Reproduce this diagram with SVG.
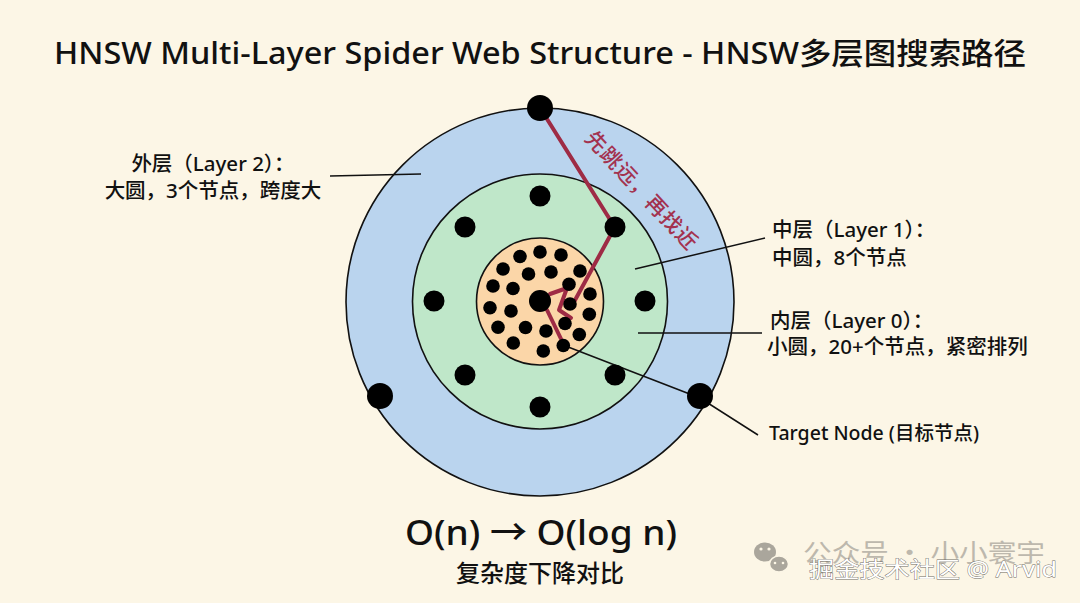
<svg xmlns="http://www.w3.org/2000/svg" width="1080" height="603" viewBox="0 0 1080 603">
<defs>
<style>
.lbl{font-family:"Noto Sans","Noto Sans CJK SC",sans-serif;fill:#111;font-weight:500;}
.ring{stroke:#111;stroke-width:1.6;}
.n{fill:#000;}
.lead{stroke:#111;stroke-width:1.5;fill:none;}
.path{stroke:#9e2b45;stroke-width:4;fill:none;stroke-linecap:round;stroke-linejoin:round;}
</style>
</defs>
<rect width="1080" height="603" fill="#fcf6e6"/>
<text class="lbl" x="540" y="64" text-anchor="middle" font-size="30" textLength="972" lengthAdjust="spacingAndGlyphs">HNSW Multi-Layer Spider Web Structure - HNSW多层图搜索路径</text>

<g id="layer2"><circle class="ring" cx="540" cy="302" r="194" fill="#bad4ee"/></g>
<g id="layer1"><circle class="ring" cx="540" cy="301.5" r="127.5" fill="#bfe7c9"/></g>
<g id="layer0"><circle class="ring" cx="540" cy="301.5" r="63.5" fill="#fbd6a8"/></g>

<g id="connectors">
<line class="lead" x1="330" y1="176" x2="421" y2="174"/>
<line class="lead" x1="635" y1="269" x2="765" y2="238"/>
<line class="lead" x1="638" y1="333" x2="762" y2="333"/>
<polyline class="lead" points="563,345 700,398 758,435"/>
<polyline class="path" points="547,119 609,218"/>
<polyline class="path" points="610,236 574,302"/>
<polyline class="path" points="550,294 567,288 559,310 571,318"/>
<polyline class="path" points="547,310 563,343"/>
</g>

<g id="outer-nodes">
<g id="o1"><circle class="n" cx="540" cy="108" r="13"/></g>
<g id="o2"><circle class="n" cx="380" cy="396" r="13"/></g>
<g id="o3"><circle class="n" cx="700" cy="396" r="13"/></g>
</g>
<g id="middle-nodes">
<g id="m1"><circle class="n" cx="540" cy="196" r="10.5"/></g>
<g id="m2"><circle class="n" cx="615" cy="227" r="10.5"/></g>
<g id="m3"><circle class="n" cx="645" cy="301" r="10.5"/></g>
<g id="m4"><circle class="n" cx="615" cy="375" r="10.5"/></g>
<g id="m5"><circle class="n" cx="540" cy="407" r="10.5"/></g>
<g id="m6"><circle class="n" cx="465" cy="375" r="10.5"/></g>
<g id="m7"><circle class="n" cx="434" cy="301" r="10.5"/></g>
<g id="m8"><circle class="n" cx="465" cy="227" r="10.5"/></g>
</g>
<g id="inner-nodes">
<g id="c0"><circle class="n" cx="540" cy="301" r="11"/></g>
<g id="i1"><circle class="n" cx="540" cy="252" r="6.8"/></g>
<g id="i2"><circle class="n" cx="520" cy="256.5" r="6.8"/></g>
<g id="i3"><circle class="n" cx="561" cy="255" r="6.8"/></g>
<g id="i4"><circle class="n" cx="503" cy="269" r="6.8"/></g>
<g id="i5"><circle class="n" cx="528.5" cy="274" r="6.8"/></g>
<g id="i6"><circle class="n" cx="551" cy="272" r="6.8"/></g>
<g id="i7"><circle class="n" cx="580" cy="271" r="6.8"/></g>
<g id="i8"><circle class="n" cx="493" cy="286" r="6.8"/></g>
<g id="i9"><circle class="n" cx="513" cy="288.5" r="6.8"/></g>
<g id="i10"><circle class="n" cx="569" cy="284.3" r="6.8"/></g>
<g id="i11"><circle class="n" cx="590" cy="294" r="6.8"/></g>
<g id="i12"><circle class="n" cx="490" cy="307.7" r="6.8"/></g>
<g id="i13"><circle class="n" cx="511" cy="311" r="6.8"/></g>
<g id="i14"><circle class="n" cx="570" cy="304" r="6.8"/></g>
<g id="i15"><circle class="n" cx="589.3" cy="314.3" r="6.8"/></g>
<g id="i16"><circle class="n" cx="498" cy="327.3" r="6.8"/></g>
<g id="i17"><circle class="n" cx="525.5" cy="327.5" r="6.8"/></g>
<g id="i18"><circle class="n" cx="546" cy="331" r="6.8"/></g>
<g id="i19"><circle class="n" cx="565" cy="323.5" r="6.8"/></g>
<g id="i20"><circle class="n" cx="579.3" cy="334.5" r="6.8"/></g>
<g id="i21"><circle class="n" cx="513.3" cy="343" r="6.8"/></g>
<g id="i22"><circle class="n" cx="543.3" cy="351" r="6.8"/></g>
<g id="target"><circle class="n" cx="563.3" cy="345.5" r="6.8"/></g>
</g>

<g id="path-label">
<text class="lbl" x="642" y="190" transform="rotate(47 642 190)" text-anchor="middle" dominant-baseline="central" font-size="21" letter-spacing="1" style="fill:#a3324f">先跳远，再找近</text>
</g>

<g id="label-layer2">
<text class="lbl" x="213" y="171" text-anchor="middle" font-size="20.5">外层（Layer 2）：</text>
<text class="lbl" x="213" y="198" text-anchor="middle" font-size="20.5">大圆，3个节点，跨度大</text>
</g>
<g id="label-layer1">
<text class="lbl" x="772" y="237" font-size="20.5">中层（Layer 1）：</text>
<text class="lbl" x="772" y="265" font-size="20.5">中圆，8个节点</text>
</g>
<g id="label-layer0">
<text class="lbl" x="770" y="328" font-size="20.5">内层（Layer 0）：</text>
<text class="lbl" x="767" y="354" font-size="20.5">小圆，20+个节点，紧密排列</text>
</g>
<g id="label-target">
<text class="lbl" x="769" y="440" font-size="19.5">Target Node (目标节点)</text>
</g>

<g id="complexity">
<text class="lbl" x="541" y="545" text-anchor="middle" font-size="35" font-weight="400" textLength="272" lengthAdjust="spacingAndGlyphs">O(n) → O(log n)</text>
<text class="lbl" x="540" y="582" text-anchor="middle" font-size="24">复杂度下降对比</text>
</g>

<g id="watermark">
<ellipse cx="765" cy="552" rx="11" ry="9.5" fill="#aaa69c"/>
<ellipse cx="779" cy="564" rx="9.5" ry="8" fill="#aaa69c" stroke="#fcf6e6" stroke-width="1.5"/>
<circle cx="761" cy="549" r="1.6" fill="#fcf6e6"/>
<circle cx="769" cy="549" r="1.6" fill="#fcf6e6"/>
<circle cx="775" cy="563" r="1.3" fill="#fcf6e6"/>
<circle cx="783" cy="563" r="1.3" fill="#fcf6e6"/>
<text x="803" y="562" font-family="Noto Sans CJK SC, sans-serif" font-size="25" fill="#bdb8ad" textLength="242" lengthAdjust="spacingAndGlyphs">公众号 · 小小寰宇</text>
<text x="809" y="577" font-family="Noto Sans, Noto Sans CJK SC, sans-serif" font-size="22" fill="#ffffff" stroke="#6d6a64" stroke-width="0.8" paint-order="stroke" textLength="248" lengthAdjust="spacingAndGlyphs">掘金技术社区 @ Arvid</text>
</g>
</svg>
